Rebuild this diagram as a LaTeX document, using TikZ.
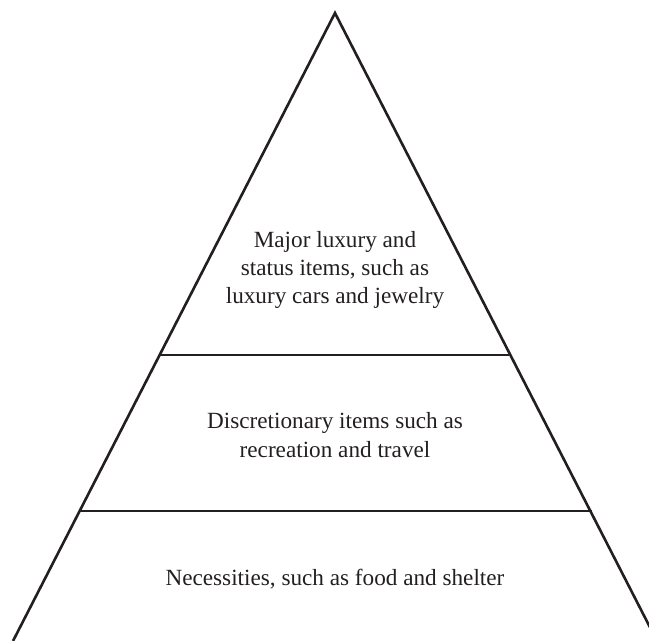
\documentclass[tikz,border=0pt]{standalone}
\usepackage{fontspec}
\setmainfont{Liberation Serif}
\usepackage{tikz}
\usetikzlibrary{positioning,calc}
\definecolor{inkgray}{HTML}{231F20}

\begin{document}
\begin{tikzpicture}[x=0.5pt,y=-0.5pt,
  edge/.style={line width=1.3pt,color=inkgray},
  tiertext/.style={font=\fontsize{11.6}{14.2}\selectfont,color=inkgray,align=center},
]
  \useasboundingbox (0,0) rectangle (649,641);
  \clip (0,0) rectangle (649,641);
  % corners of the pyramid
  \coordinate (apex) at (335,13);
  \coordinate (baseL) at (13,641);
  \coordinate (baseR) at (657,641);
  \coordinate (upL) at (160,355);
  \coordinate (upR) at (509,355);
  \coordinate (lowL) at (80,511);
  \coordinate (lowR) at (592,511);

  \draw[edge] (baseL) -- (apex) -- (baseR);
  \draw[edge] (upL) -- (upR);
  \draw[edge] (lowL) -- (lowR);

  \node[tiertext] (luxury) at (335,270) {Major luxury and\\status items, such as\\luxury cars and jewelry};
  \node[tiertext] (discr) at (335,435) {Discretionary items such as\\recreation and travel};
  \node[tiertext] (needs) at (335,579) {Necessities, such as food and shelter};
\end{tikzpicture}
\end{document}
